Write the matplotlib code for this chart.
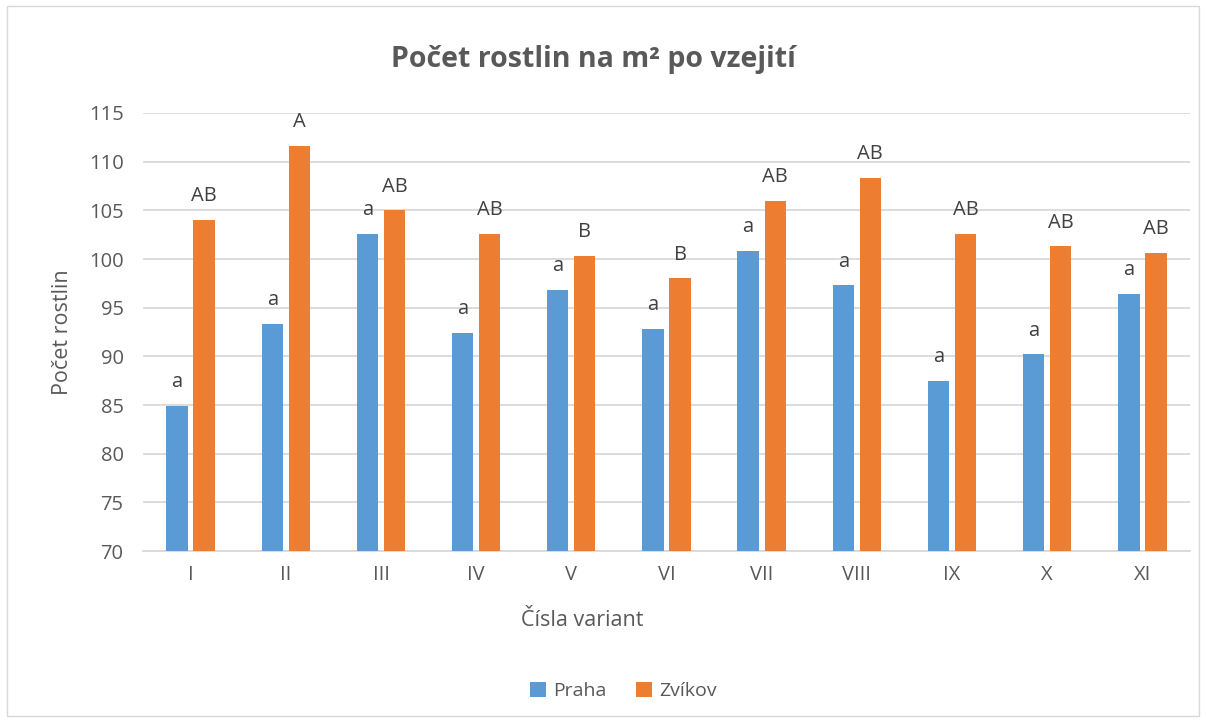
# Počet rostlin na m2 po vzejití - Praha vs Zvíkov
import numpy as np
import matplotlib.pyplot as plt
from matplotlib.patches import Rectangle

plt.rcParams['font.family'] = ['Open Sans', 'DejaVu Sans']

variants = ['I', 'II', 'III', 'IV', 'V', 'VI', 'VII', 'VIII', 'IX', 'X', 'XI']
praha = [84.9, 93.3, 102.6, 92.4, 96.8, 92.8, 100.8, 97.3, 87.5, 90.2, 96.4]
zvikov = [104.0, 111.6, 105.0, 102.6, 100.3, 98.0, 106.0, 108.3, 102.6, 101.3, 100.6]
praha_letters = ['a'] * 11
zvikov_letters = ['AB', 'A', 'AB', 'AB', 'B', 'B', 'AB', 'AB', 'AB', 'AB', 'AB']

gray = '#595959'
fig = plt.figure(figsize=(12.06, 7.22), dpi=100)
ax = fig.add_axes([0.1186, 0.2368, 0.8681, 0.6067])

x = np.arange(len(variants))
w = 0.224
off = 0.142
b1 = ax.bar(x - off, praha, width=w, color='#5B9BD5', label='Praha', zorder=3)
b2 = ax.bar(x + off, zvikov, width=w, color='#ED7D31', label='Zvíkov', zorder=3)

for bars, letters in [(b1, praha_letters), (b2, zvikov_letters)]:
    for bar, t in zip(bars, letters):
        ax.annotate(t, (bar.get_x() + bar.get_width() / 2, bar.get_height()),
                    xytext=(0, 13.5), textcoords='offset points',
                    ha='center', va='baseline', fontsize=14.5, color='#404040')

ax.set_ylim(70, 115)
ax.set_xlim(-0.5, len(variants) - 0.5)
ax.set_yticks(range(70, 116, 5))
ax.set_xticks(x)
ax.set_xticklabels(variants)
ax.tick_params(length=0, labelsize=14.5, labelcolor=gray)
ax.tick_params(axis='y', pad=14)
ax.tick_params(axis='x', pad=10)
ax.grid(axis='y', color='#d9d9d9', linewidth=1.3, zorder=0)
for s in ['top', 'right', 'left']:
    ax.spines[s].set_visible(False)
ax.spines['bottom'].set_color('#d9d9d9')
ax.spines['bottom'].set_linewidth(1.3)

fig.text(0.492, 0.917, 'Počet rostlin na m² po vzejití', ha='center', va='center',
         fontsize=20.5, fontweight='bold', color=gray)
fig.text(0.052, 0.54, 'Počet rostlin', rotation=90, ha='center', va='center',
         fontsize=15.5, color=gray)
fig.text(0.483, 0.14, 'Čísla variant', ha='center', va='center',
         fontsize=15.5, color=gray)

fig.legend(loc='center', bbox_to_anchor=(0.517, 0.043), ncol=2, frameon=False,
           fontsize=14, labelcolor=gray, handlelength=0.8, handleheight=0.8,
           handletextpad=0.4, columnspacing=1.5)

fig.patches.append(Rectangle((0.006, 0.008), 0.988, 0.984, transform=fig.transFigure,
                             fill=False, edgecolor='#d9d9d9', linewidth=1))

fig.savefig('out.png', dpi=100)
